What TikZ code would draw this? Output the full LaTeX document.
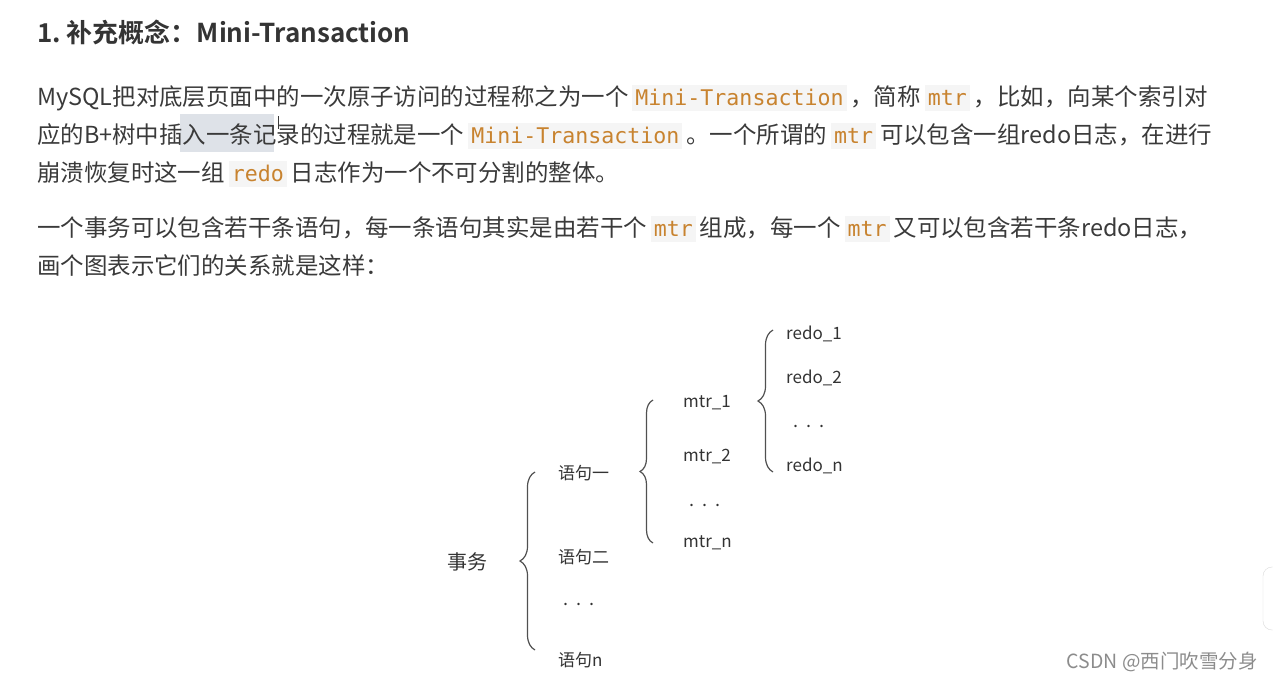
\documentclass[tikz,border=0pt]{standalone}
\usepackage{fontspec}
\setmainfont{Noto Sans CJK SC}[BoldFont={Noto Sans CJK SC Bold}]
\newfontfamily\codefont{DejaVu Sans Mono}
\usepackage{xcolor}
\usetikzlibrary{positioning, calc, decorations.pathreplacing}

\definecolor{bodytext}{HTML}{3A3A3A}
\definecolor{figtext}{HTML}{333333}
\definecolor{codefg}{HTML}{C8832F}
\definecolor{codebg}{HTML}{F5F5F5}
\definecolor{selbg}{HTML}{DEE2E8}
\definecolor{bracegray}{HTML}{505050}
\definecolor{markgray}{HTML}{8C8C8C}

% inline code span: orange mono text on a pale box
\newcommand{\inlinecode}[1]{\hspace{4pt}{\setlength{\fboxsep}{3pt}\colorbox{codebg}{\rule[-3pt]{0pt}{20pt}\textcolor{codefg}{\codefont\fontsize{21.6}{26}\selectfont #1}}}\hspace{4pt}}

\tikzset{
    bodyline/.style={anchor=base west, inner sep=0pt, text=bodytext, font=\fontsize{23.45}{28}\selectfont},
    figlabel/.style={anchor=west, inner sep=0pt, text=figtext, font=\fontsize{17}{20}\selectfont},
    bracepath/.style={draw=bracegray, line width=1.2pt, decorate, decoration={brace, amplitude=#1}}
}

\begin{document}
\begin{tikzpicture}[x=1pt, y=-1pt,
    titleline/.style={anchor=base west, inner sep=0pt, text=bodytext!90!black, font=\bfseries\fontsize{26}{30}\selectfont},
    dotlabel/.style={figlabel, font=\fontsize{18}{20}\selectfont}]
    \useasboundingbox (0,0) rectangle (1273,681);

    % Heading
    \node (title) [titleline] at (37,42) {1.\ 补充概念：Mini-Transaction};

    % Paragraph 1 (selection mark under line 2 first)
    \fill [selbg] (180,114) rectangle (274,152);
    \node (p1a) [bodyline] at (37,105) {MySQL把对底层页面中的一次原子访问的过程称之为一个\inlinecode{Mini-Transaction}，简称\inlinecode{mtr}，比如，向某个索引对};
    \node (p1b) [bodyline] at (37,143) {应的B+树中插入一条记录的过程就是一个\inlinecode{Mini-Transaction}。一个所谓的\inlinecode{mtr}可以包含一组redo日志，在进行};
    \node (p1c) [bodyline] at (37,181) {崩溃恢复时这一组\inlinecode{redo}日志作为一个不可分割的整体。};
    \draw [bodytext, line width=1pt] (278,116) -- (278,129);

    % Paragraph 2
    \node (p2a) [bodyline] at (37,236) {一个事务可以包含若干条语句，每一条语句其实是由若干个\inlinecode{mtr}组成，每一个\inlinecode{mtr}又可以包含若干条redo日志，};
    \node (p2b) [bodyline] at (37,274) {画个图表示它们的关系就是这样：};

    % Level 1: transaction and its statements
    \node (trx) [text=figtext, inner sep=0pt, font=\fontsize{20}{24}\selectfont] at (467,562) {事务};
    \node (stmt1) [figlabel] at (558,473) {语句一};
    \node (stmt2) [figlabel] at (558,557) {语句二};
    \node (stmtdots) [dotlabel] at (563,604) {.\hspace{8pt}.\hspace{8pt}.};
    \node (stmtn) [figlabel] at (558,660) {语句n};

    % Level 2: mtr of statement one
    \node (mtr1) [figlabel] at (683,403) {mtr\_1};
    \node (mtr2) [figlabel] at (683,457) {mtr\_2};
    \node (mtrdots) [dotlabel] at (689,505) {.\hspace{8pt}.\hspace{8pt}.};
    \node (mtrn) [figlabel] at (683,543) {mtr\_n};

    % Level 3: redo logs of mtr_1
    \node (redo1) [figlabel] at (786,334) {redo\_1};
    \node (redo2) [figlabel] at (786,378) {redo\_2};
    \node (redodots) [dotlabel] at (793,426) {.\hspace{8pt}.\hspace{8pt}.};
    \node (redon) [figlabel] at (786,466) {redo\_n};

    % Braces
    \coordinate (trxtop) at (535,472);
    \coordinate (trxbot) at (535,650);
    \coordinate (stmttop) at (653,400);
    \coordinate (stmtbot) at (653,543);
    \coordinate (mtrtop) at (773,330);
    \coordinate (mtrbot) at (773,472);
    \draw [bracepath=15] (trxbot) -- (trxtop);
    \draw [bracepath=13] (stmtbot) -- (stmttop);
    \draw [bracepath=15] (mtrbot) -- (mtrtop);

    % Page furniture
    \draw [draw=gray!30, fill=white, rounded corners=9pt] (1263,567) rectangle (1300,630);
    \node (mark) [anchor=east, inner sep=0pt, text=markgray, font=\fontsize{19.5}{22}\selectfont] at (1258,662) {CSDN @西门吹雪分身};
\end{tikzpicture}
\end{document}
